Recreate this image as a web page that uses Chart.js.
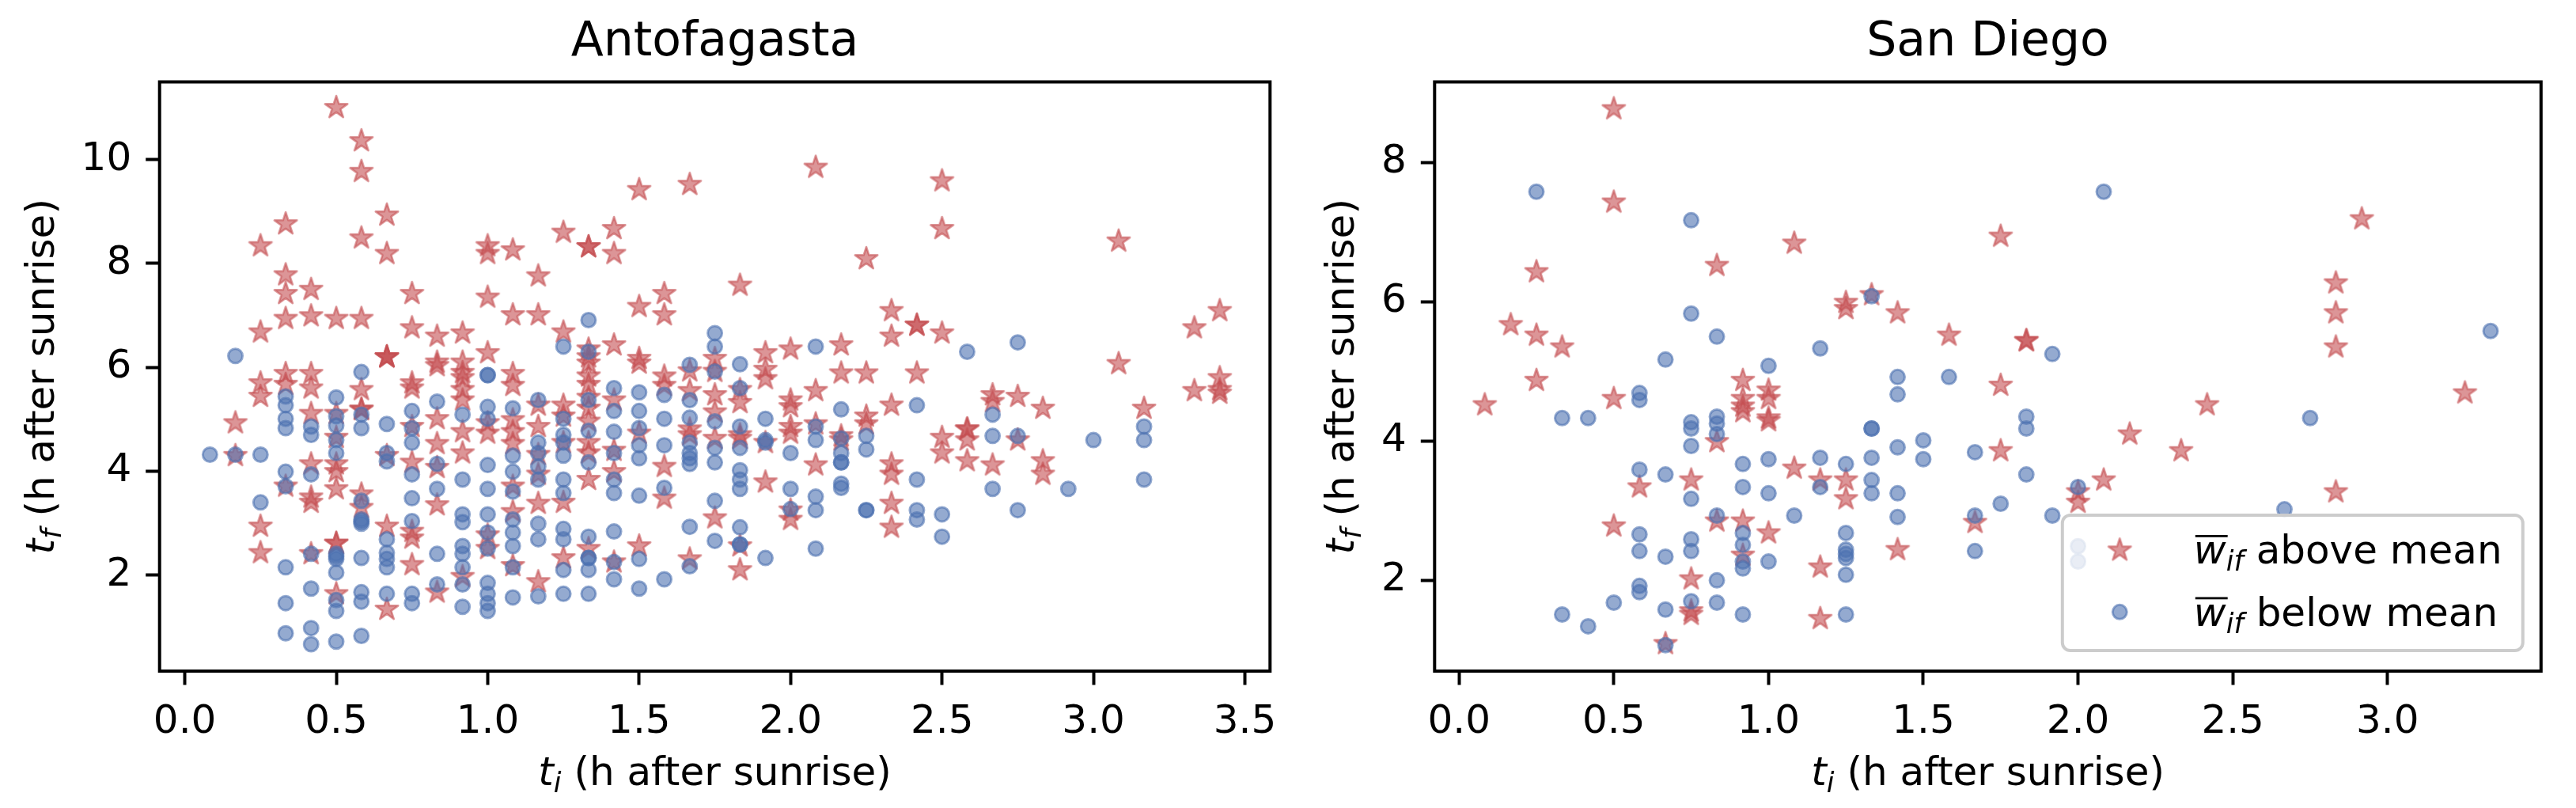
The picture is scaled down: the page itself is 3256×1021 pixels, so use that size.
<!DOCTYPE html>
<html><head><meta charset="utf-8">
<script src="https://cdn.jsdelivr.net/npm/chart.js@4.4.0/dist/chart.umd.min.js"></script>
<style>
html,body{margin:0;padding:0;background:#fff;width:3256px;height:1021px;overflow:hidden}
#wl{position:absolute;left:0;top:0;width:1660px;height:1021px}
#wr{position:absolute;left:1660px;top:0;width:1596px;height:1021px}
canvas{display:block}
</style></head><body>
<div id="wl"><canvas id="cl"></canvas></div>
<div id="wr"><canvas id="cr"></canvas></div>
<script>
// ---------------- DATA (t_i in h, list of t_f values per t_i) ----------------
const panelTitles = ['Antofagasta', 'San Diego'];
const seriesLabels = ['above mean', 'below mean'];

const antoAbove = [
  [0.167, [4.93, 4.30]],
  [0.25, [8.34, 6.68, 5.70, 5.44, 2.94, 2.43]],
  [0.333, [8.76, 7.78, 7.42, 6.94, 5.88, 5.67, 3.71]],
  [0.417, [7.50, 6.99, 5.88, 5.60, 5.11, 4.14, 3.50, 3.40, 2.41]],
  [0.5, [11.0, 6.94, 5.11, 4.65, 4.14, 3.99, 3.66, 2.61, 2.61, 1.64]],
  [0.583, [10.36, 9.77, 8.49, 6.94, 5.57, 5.19, 5.19, 3.56, 3.30]],
  [0.667, [8.93, 8.19, 6.20, 6.20, 6.20, 4.30, 2.94, 1.34]],
  [0.75, [7.42, 6.76, 5.70, 5.60, 4.86, 4.17, 2.84, 2.71, 2.20]],
  [0.833, [6.60, 6.10, 6.03, 5.01, 4.53, 4.07, 3.35, 1.67]],
  [0.917, [6.66, 6.10, 5.90, 5.80, 5.57, 5.37, 4.76, 4.35, 1.97]],
  [1.0, [8.34, 8.19, 7.35, 6.28, 4.93, 4.73, 2.77, 2.51]],
  [1.083, [8.26, 7.01, 5.88, 5.65, 4.99, 4.76, 4.53, 3.71, 3.22, 2.18]],
  [1.167, [7.76, 7.01, 5.27, 4.86, 4.32, 3.94, 3.38, 1.87]],
  [1.25, [8.60, 6.68, 5.27, 5.06, 4.55, 3.40, 2.33]],
  [1.333, [8.32, 8.32, 6.35, 6.20, 6.08, 5.83, 5.67, 5.42, 5.21, 4.96, 4.55, 4.35, 3.84, 2.51]],
  [1.417, [8.67, 8.19, 6.43, 5.37, 4.40, 3.99, 2.25]],
  [1.5, [9.42, 7.17, 6.17, 6.08, 4.73, 2.56]],
  [1.583, [7.42, 7.01, 5.83, 5.65, 4.09, 3.48]],
  [1.667, [9.52, 5.93, 5.55, 4.81, 4.70, 2.31]],
  [1.75, [6.17, 5.92, 5.47, 5.14, 4.63, 3.10]],
  [1.833, [7.58, 5.57, 5.32, 4.70, 4.63, 2.56, 2.10]],
  [1.917, [6.28, 5.96, 5.78, 4.55, 3.79]],
  [2.0, [6.35, 5.37, 5.24, 4.86, 4.73, 3.25, 3.07]],
  [2.083, [9.85, 5.55, 4.91, 4.12]],
  [2.167, [6.43, 5.89, 4.68, 4.60]],
  [2.25, [8.09, 5.89, 5.06, 4.91]],
  [2.333, [7.09, 6.60, 5.27, 4.14, 3.94, 3.38, 2.92]],
  [2.417, [6.81, 6.81, 5.89]],
  [2.5, [9.59, 8.67, 6.66, 4.65, 4.35]],
  [2.583, [4.81, 4.81, 4.60, 4.20]],
  [2.667, [5.47, 5.34, 4.12]],
  [2.75, [5.44, 4.60]],
  [2.833, [5.21, 4.20, 3.94]],
  [3.083, [8.43, 6.07]],
  [3.167, [5.21]],
  [3.333, [6.76, 5.55]],
  [3.417, [7.09, 5.80, 5.57, 5.50]]
];

const antoBelow = [
  [0.083, [4.32]],
  [0.167, [6.22, 4.32]],
  [0.25, [4.32, 3.40]],
  [0.333, [5.44, 5.27, 5.01, 4.83, 3.99, 3.71, 2.15, 1.46, 0.88]],
  [0.417, [4.86, 4.70, 3.94, 2.41, 1.74, 0.98, 0.67]],
  [0.5, [5.42, 5.06, 4.88, 4.60, 4.35, 2.41, 2.36, 2.31, 2.05, 1.52, 1.31, 0.72]],
  [0.583, [5.91, 5.09, 4.83, 3.43, 3.07, 3.03, 2.99, 2.33, 1.67, 1.49, 0.83]],
  [0.667, [4.91, 4.35, 4.19, 2.69, 2.43, 2.31, 2.15, 1.64]],
  [0.75, [5.16, 4.83, 4.55, 3.94, 3.48, 3.04, 1.64, 1.46]],
  [0.833, [5.34, 4.14, 3.66, 2.41, 1.82]],
  [0.917, [5.09, 3.84, 3.17, 3.02, 2.56, 2.41, 2.15, 1.82, 1.39]],
  [1.0, [5.85, 5.85, 5.24, 5.01, 4.12, 3.66, 3.17, 2.82, 2.51, 1.85, 1.64, 1.46, 1.31]],
  [1.083, [5.21, 4.30, 3.99, 3.61, 3.07, 2.82, 2.56, 2.15, 1.57]],
  [1.167, [5.37, 4.55, 4.35, 4.09, 3.84, 2.99, 2.69, 1.59]],
  [1.25, [6.40, 5.01, 4.70, 4.55, 4.30, 3.84, 3.58, 2.89, 2.69, 2.10, 1.64]],
  [1.333, [6.91, 6.30, 5.37, 4.78, 4.17, 2.74, 2.33, 2.33, 2.10, 1.64]],
  [1.417, [5.60, 5.16, 4.76, 4.35, 3.84, 3.58, 2.84, 2.25, 1.92]],
  [1.5, [5.52, 5.16, 4.83, 4.50, 4.25, 3.53, 2.31, 1.74]],
  [1.583, [5.47, 5.01, 4.50, 3.68, 1.92]],
  [1.667, [6.05, 5.37, 5.03, 4.55, 4.35, 4.25, 4.14, 2.93, 2.17]],
  [1.75, [6.66, 6.40, 5.92, 4.96, 4.45, 4.17, 3.43, 2.66]],
  [1.833, [6.06, 5.60, 4.86, 4.45, 4.02, 3.84, 3.66, 2.92, 2.59, 2.59]],
  [1.917, [5.01, 4.60, 4.55, 2.33]],
  [2.0, [4.35, 3.66, 3.27]],
  [2.083, [6.40, 4.86, 4.60, 3.51, 3.25, 2.51]],
  [2.167, [5.19, 4.63, 4.35, 4.17, 4.17, 3.76, 3.68]],
  [2.25, [4.68, 4.42, 3.25, 3.25]],
  [2.417, [5.27, 3.84, 3.25, 3.07]],
  [2.5, [3.17, 2.74]],
  [2.583, [6.30]],
  [2.667, [5.09, 4.68, 3.66]],
  [2.75, [6.48, 4.68, 3.25]],
  [2.917, [3.66]],
  [3.0, [4.60]],
  [3.167, [4.86, 4.60, 3.84]]
];

const sdAbove = [
  [0.083, [4.52]],
  [0.167, [5.67]],
  [0.25, [6.43, 5.52, 4.87]],
  [0.333, [5.35]],
  [0.5, [8.77, 7.43, 4.61, 2.78]],
  [0.583, [3.34]],
  [0.667, [1.09]],
  [0.75, [3.44, 2.02, 1.56, 1.51]],
  [0.833, [6.52, 3.99, 2.85]],
  [0.917, [4.87, 4.61, 4.50, 4.42, 2.85, 2.36]],
  [1.0, [4.73, 4.61, 4.33, 4.29, 2.68]],
  [1.083, [6.84, 3.61]],
  [1.167, [3.44, 2.19, 1.45]],
  [1.25, [5.99, 5.90, 3.44, 3.17]],
  [1.333, [6.10]],
  [1.417, [5.84, 2.44]],
  [1.583, [5.52]],
  [1.667, [2.83]],
  [1.75, [6.94, 4.80, 3.86]],
  [1.833, [5.44, 5.44]],
  [2.0, [3.27, 3.12]],
  [2.083, [3.44]],
  [2.167, [4.10]],
  [2.333, [3.86]],
  [2.417, [4.52]],
  [2.833, [6.27, 5.84, 5.35, 3.27]],
  [2.917, [7.19]],
  [3.25, [4.69]]
];

const sdBelow = [
  [0.25, [7.58]],
  [0.333, [4.33, 1.51]],
  [0.417, [4.33, 1.34]],
  [0.5, [1.68]],
  [0.583, [4.69, 4.59, 3.59, 2.66, 2.42, 1.92, 1.83]],
  [0.667, [5.17, 3.52, 2.34, 1.58, 1.07]],
  [0.75, [7.17, 5.83, 4.27, 4.18, 3.93, 3.17, 2.59, 2.42, 1.70]],
  [0.833, [5.50, 4.35, 4.25, 4.10, 2.93, 2.00, 1.68]],
  [0.917, [3.67, 3.34, 2.68, 2.51, 2.27, 2.17, 1.51]],
  [1.0, [5.08, 3.74, 3.25, 2.27]],
  [1.083, [2.93]],
  [1.167, [5.33, 3.76, 3.34]],
  [1.25, [3.67, 2.68, 2.44, 2.38, 2.32, 2.08, 1.51]],
  [1.333, [6.08, 4.18, 4.18, 3.76, 3.44, 3.25]],
  [1.417, [4.92, 4.67, 3.91, 3.25, 2.91]],
  [1.5, [4.01, 3.74]],
  [1.583, [4.92]],
  [1.667, [3.84, 2.93, 2.42]],
  [1.75, [3.10]],
  [1.833, [4.35, 4.18, 3.52]],
  [1.917, [5.25, 2.93]],
  [2.0, [3.34, 2.49, 2.27]],
  [2.083, [7.58]],
  [2.667, [3.02]],
  [2.75, [4.33]],
  [3.333, [5.58]]
];

const antoXTicks = [0, 0.5, 1.0, 1.5, 2.0, 2.5, 3.0, 3.5];
const antoYTicks = [2, 4, 6, 8, 10];
const sdXTicks = [0, 0.5, 1.0, 1.5, 2.0, 2.5, 3.0];
const sdYTicks = [2, 4, 6, 8];

// ---------------- STYLE ----------------
const FF = '"DejaVu Sans", "Liberation Sans", sans-serif';
const RED_A = 'rgba(196,78,82,0.6)';
const BLUE_A = 'rgba(76,114,176,0.6)';
const FS = 50;

function makeStar(r, lw) {
  const s = 2 * Math.ceil(r + lw + 1);
  const c = document.createElement('canvas');
  c.width = s; c.height = s;
  const g = c.getContext('2d');
  g.translate(s / 2, s / 2);
  g.beginPath();
  for (let i = 0; i < 10; i++) {
    const rad = i % 2 === 0 ? r : r * 0.381966;
    const a = -Math.PI / 2 + i * Math.PI / 5;
    if (i === 0) g.moveTo(rad * Math.cos(a), rad * Math.sin(a));
    else g.lineTo(rad * Math.cos(a), rad * Math.sin(a));
  }
  g.closePath();
  g.fillStyle = RED_A; g.fill();
  g.lineJoin = 'round'; g.lineWidth = lw; g.strokeStyle = RED_A; g.stroke();
  return c;
}
const starImg = makeStar(15, 2.5);

function toPoints(cols) {
  const pts = [];
  cols.forEach(([x, ys]) => ys.forEach(y => pts.push({ x: x, y: y })));
  return pts;
}

function richText(ctx, parts, x, y, rot) {
  ctx.save();
  ctx.translate(x, y);
  if (rot) ctx.rotate(rot);
  ctx.textBaseline = 'alphabetic'; ctx.textAlign = 'left'; ctx.fillStyle = '#000';
  let w = 0;
  parts.forEach(p => { ctx.font = p.f; w += ctx.measureText(p.t).width; });
  let cx = -w / 2;
  parts.forEach(p => { ctx.font = p.f; ctx.fillText(p.t, cx, p.dy || 0); cx += ctx.measureText(p.t).width; });
  ctx.restore();
}
const IT = 'italic ' + FS + 'px ' + FF;
const ITS = 'italic 35px ' + FF;
const RG = FS + 'px ' + FF;

const framePlugin = {
  id: 'frame',
  afterDatasetsDraw(chart) {
    const a = chart.chartArea, ctx = chart.ctx;
    ctx.save(); ctx.strokeStyle = '#000'; ctx.lineWidth = 4;
    ctx.strokeRect(a.left, a.top, a.right - a.left, a.bottom - a.top);
    ctx.restore();
  }
};

function axisTitlePlugin(ylabX) {
  return {
    id: 'axtitles',
    afterDraw(chart) {
      const a = chart.chartArea, ctx = chart.ctx;
      richText(ctx, [{ t: 't', f: IT }, { t: 'i', f: ITS, dy: 9 }, { t: ' (h after sunrise)', f: RG }],
        (a.left + a.right) / 2, 991.5, 0);
      richText(ctx, [{ t: 't', f: IT }, { t: 'f', f: ITS, dy: 9 }, { t: ' (h after sunrise)', f: RG }],
        ylabX, (a.top + a.bottom) / 2, -Math.PI / 2);
    }
  };
}

const legendPlugin = {
  id: 'mylegend',
  afterDraw(chart) {
    const a = chart.chartArea, ctx = chart.ctx;
    const w = 582, h = 171;
    const bx = a.right - 23 - w, by = a.bottom - 26 - h;
    ctx.save();
    ctx.beginPath();
    ctx.roundRect(bx, by, w, h, 10);
    ctx.fillStyle = 'rgba(255,255,255,0.8)'; ctx.fill();
    ctx.lineWidth = 4; ctx.strokeStyle = '#cccccc'; ctx.stroke();
    // markers
    ctx.drawImage(starImg, bx + 72.5 - starImg.width / 2, by + 44.3 - starImg.height / 2);
    ctx.beginPath(); ctx.arc(bx + 72.5, by + 122.3, 9, 0, Math.PI * 2);
    ctx.fillStyle = BLUE_A; ctx.fill(); ctx.lineWidth = 3; ctx.strokeStyle = BLUE_A; ctx.stroke();
    // texts
    const rows = [[seriesLabels[0], by + 61], [seriesLabels[1], by + 139.5]];
    rows.forEach(([lab, yb]) => {
      let x = bx + 166;
      ctx.fillStyle = '#000'; ctx.textBaseline = 'alphabetic'; ctx.textAlign = 'left';
      ctx.font = IT; ctx.fillText('w', x, yb);
      const ww = ctx.measureText('w').width;
      ctx.fillRect(x + 2, yb - 36, ww, 2.8);
      x += ww;
      ctx.font = ITS; ctx.fillText('if', x, yb + 9); x += ctx.measureText('if').width;
      ctx.font = RG; ctx.fillText(' ' + lab, x, yb);
    });
    ctx.restore();
  }
};

function scaleCfg(ticksArr, min, max, fmt, fixedSize, horiz) {
  return {
    type: 'linear', min: min, max: max,
    afterBuildTicks: (s) => { s.ticks = ticksArr.map(v => ({ value: v })); },
    afterFit: (s) => { if (horiz) s.height = fixedSize; else s.width = fixedSize; },
    ticks: {
      color: '#000', font: { family: FF, size: FS }, padding: 18,
      maxRotation: 0, autoSkip: false, callback: fmt
    },
    grid: { display: true, drawOnChartArea: false, drawTicks: true, tickLength: 17.5, tickWidth: 4, tickColor: '#000' },
    border: { display: false },
    title: { display: false }
  };
}

function makeChart(id, title, above, below, xt, yt, xr, yr, yw, padRight, ylabX, withLegend) {
  const plugins = [framePlugin, axisTitlePlugin(ylabX)];
  if (withLegend) plugins.push(legendPlugin);
  return new Chart(document.getElementById(id), {
    type: 'scatter',
    data: {
      datasets: [
        { label: seriesLabels[0], data: toPoints(above), pointStyle: starImg, pointRadius: 15, pointHoverRadius: 15, order: 1 },
        { label: seriesLabels[1], data: toPoints(below), pointStyle: 'circle', pointRadius: 9, pointHoverRadius: 9,
          pointBackgroundColor: BLUE_A, pointBorderColor: BLUE_A, pointBorderWidth: 3, pointHoverBorderWidth: 3,
          pointHoverBackgroundColor: BLUE_A, pointHoverBorderColor: BLUE_A, order: 0 }
      ]
    },
    options: {
      responsive: true, maintainAspectRatio: false, animation: false, devicePixelRatio: 1,
      events: [],
      layout: { autoPadding: false, padding: { left: 0, right: padRight, top: 0, bottom: 0 } },
      scales: {
        x: scaleCfg(xt, xr[0], xr[1], (v) => Number(v).toFixed(1), 173, true),
        y: scaleCfg(yt, yr[0], yr[1], (v) => String(v), yw, false)
      },
      plugins: {
        legend: { display: false },
        tooltip: { enabled: false },
        title: {
          display: true, text: title, fullSize: false, color: '#000',
          font: { family: FF, size: 60, weight: 'normal', lineHeight: 1.2 },
          padding: { top: 18, bottom: 13.5 }
        }
      }
    },
    plugins: plugins
  });
}

makeChart('cl', panelTitles[0], antoAbove, antoBelow, antoXTicks, antoYTicks,
  [-0.0833, 3.583], [0.152, 11.496], 201.7, 54.7, 68, false);
makeChart('cr', panelTitles[1], sdAbove, sdBelow, sdXTicks, sdYTicks,
  [-0.079, 3.496], [0.697, 9.157], 153.3, 44.2, 51.4, true);
</script>
</body></html>
